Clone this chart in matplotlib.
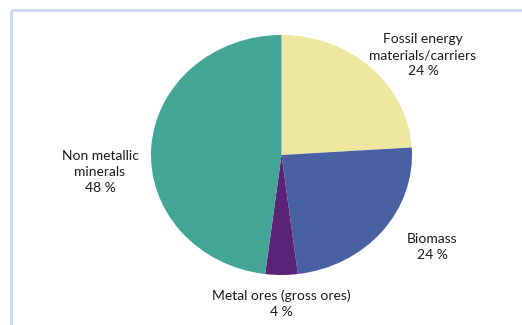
import matplotlib
matplotlib.use("Agg")
import matplotlib.pyplot as plt

# Material extraction by group, share in percent
categories = ["Fossil energy\nmaterials/carriers", "Biomass",
              "Metal ores (gross ores)", "Non metallic\nminerals"]
shares = [24, 24, 4, 48]
colors = ["#eee7a0", "#4961a3", "#5b2277", "#42a596"]

W, H = 522, 325
fig = plt.figure(figsize=(W / 100, H / 100), dpi=100)
fig.patch.set_facecolor("white")

# Background axes in pixel coordinates for the frame and the labels
bg = fig.add_axes([0, 0, 1, 1])
bg.set_xlim(0, W)
bg.set_ylim(H, 0)
bg.axis("off")
frame_col = "#c9d8f0"
bg.plot([11, W], [10, 10], color=frame_col, lw=2, solid_capstyle="butt")
bg.plot([11, 11], [10, H], color=frame_col, lw=2, solid_capstyle="butt")

# Pie axes: slightly wider than tall
left, right, top, bottom = 151, 412, 35, 275
pie_ax = fig.add_axes([left / W, (H - bottom) / H, (right - left) / W, (bottom - top) / H])
pie_ax.pie(shares, colors=colors, startangle=90, counterclock=False,
           radius=1.0, wedgeprops=dict(linewidth=0))
pie_ax.set_aspect("auto")
pie_ax.set_xlim(-1, 1)
pie_ax.set_ylim(-1, 1)
pie_ax.axis("off")

font = ["Lato", "DejaVu Sans"]
tcol = "#1e1a1b"
label_pos = [(423, 55), (432, 247), (281, 304), (100, 172)]
for name, val, (x, y) in zip(categories, shares, label_pos):
    bg.text(x, y, f"{name}\n{val} %", ha="center", va="center",
            fontsize=10, family=font, color=tcol, linespacing=1.38)

fig.savefig("out.png", dpi=100)
